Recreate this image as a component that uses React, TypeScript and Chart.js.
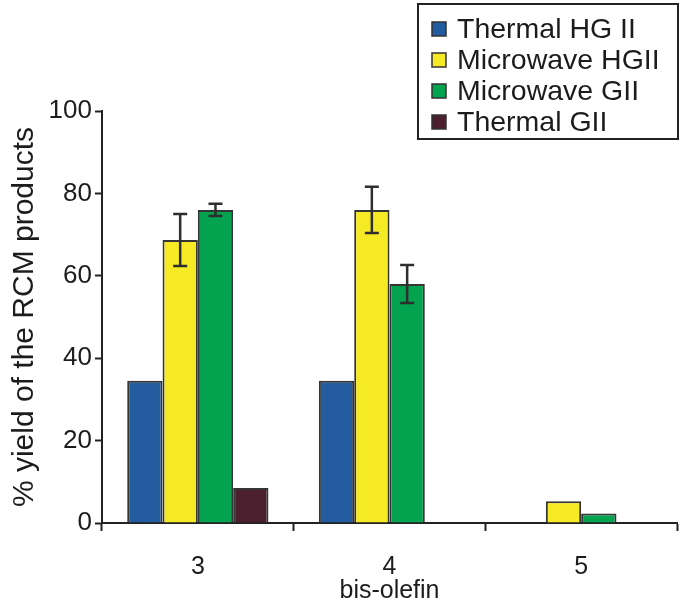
import React, { useEffect, useRef } from "react";
import { Chart, registerables } from "chart.js";

Chart.register(...registerables);

// ---- data ----
const categories = ["3", "4", "5"];
const seriesLabels = ["Thermal HG II", "Microwave HGII", "Microwave GII", "Thermal GII"];
const thermalHGII: (number | null)[] = [34.5, 34.5, null];
const microwaveHGII: (number | null)[] = [68.7, 76, 5.3];
const microwaveGII: (number | null)[] = [76, 58, 2.3];
const thermalGII: (number | null)[] = [8.5, null, null];
const thermalHGIIErr: (number | null)[] = [null, null, null];
const microwaveHGIIErr: (number | null)[] = [6.3, 5.6, null];
const microwaveGIIErr: (number | null)[] = [1.5, 4.6, null];
const thermalGIIErr: (number | null)[] = [null, null, null];
const yTicks = [0, 20, 40, 60, 80, 100];

const colors = ["#235d9f", "#f6ea25", "#03a350", "#4b1f2d"];
const FONT = "'Liberation Sans', Arial, Helvetica, sans-serif";
const INK = "#1c1c1c";

const errorBarPlugin = {
  id: "errorBars",
  afterDatasetsDraw(chart: any) {
    const ctx = chart.ctx;
    const yScale = chart.scales.y;
    ctx.save();
    ctx.strokeStyle = "#2e2e2e";
    ctx.lineWidth = 2.5;
    chart.data.datasets.forEach((ds: any, di: number) => {
      const errs = ds.errors as (number | null)[];
      if (!errs) return;
      const meta = chart.getDatasetMeta(di);
      errs.forEach((e, i) => {
        const v = ds.data[i];
        if (e == null || v == null) return;
        const el = meta.data[i];
        const x = el.x;
        const yTop = yScale.getPixelForValue(v + e);
        const yBot = yScale.getPixelForValue(v - e);
        const cap = 7;
        ctx.beginPath();
        ctx.moveTo(x, yTop);
        ctx.lineTo(x, yBot);
        ctx.moveTo(x - cap, yTop);
        ctx.lineTo(x + cap, yTop);
        ctx.moveTo(x - cap, yBot);
        ctx.lineTo(x + cap, yBot);
        ctx.stroke();
      });
    });
    ctx.restore();
  },
};

const legendPlugin = {
  id: "boxLegend",
  afterDraw(chart: any) {
    const ctx = chart.ctx;
    ctx.save();
    ctx.strokeStyle = "#222222";
    ctx.lineWidth = 2;
    ctx.strokeRect(418, 4, 260, 135);
    ctx.font = `28.5px ${FONT}`;
    ctx.textBaseline = "middle";
    ctx.textAlign = "left";
    chart.data.datasets.forEach((ds: any, i: number) => {
      const cy = 29 + i * 31;
      ctx.fillStyle = ds.backgroundColor;
      ctx.fillRect(432, cy - 7, 14, 14);
      ctx.lineWidth = 1.5;
      ctx.strokeStyle = "#333333";
      ctx.strokeRect(432, cy - 7, 14, 14);
      ctx.fillStyle = INK;
      ctx.fillText(ds.label, 457, cy + 1);
    });
    ctx.restore();
  },
};

export default function App() {
  const ref = useRef<HTMLCanvasElement | null>(null);

  useEffect(() => {
    if (!ref.current) return;
    const series = [thermalHGII, microwaveHGII, microwaveGII, thermalGII];
    const errs = [thermalHGIIErr, microwaveHGIIErr, microwaveGIIErr, thermalGIIErr];
    const chart = new Chart(ref.current, {
      type: "bar",
      data: {
        labels: categories,
        datasets: series.map((d, i) => ({
          label: seriesLabels[i],
          data: d,
          errors: errs[i],
          backgroundColor: colors[i],
          borderColor: "#353535",
          borderWidth: 2,
          categoryPercentage: 0.737,
          barPercentage: 1.0,
        })) as any,
      },
      options: {
        animation: false,
        responsive: false,
        devicePixelRatio: 1,
        layout: { padding: { top: 111, right: 7, left: 0, bottom: 0 } },
        plugins: {
          legend: { display: false },
          tooltip: { enabled: false },
        },
        scales: {
          x: {
            border: { display: true, color: "#222222", width: 2 },
            grid: {
              display: true,
              drawOnChartArea: false,
              drawTicks: true,
              tickLength: 8,
              tickWidth: 2,
              tickColor: "#222222",
              offset: true,
            },
            ticks: { color: INK, font: { family: FONT, size: 25 }, padding: 21 },
            title: {
              display: true,
              text: "bis-olefin",
              color: INK,
              font: { family: FONT, size: 25, lineHeight: 1.0 },
              padding: { top: 0, bottom: 2 },
            },
            afterFit: (s: any) => {
              s.height = 83;
            },
          },
          y: {
            min: 0,
            max: 100,
            border: { display: true, color: "#222222", width: 2 },
            grid: {
              display: true,
              drawOnChartArea: false,
              drawTicks: true,
              tickLength: 7,
              tickWidth: 2,
              tickColor: "#222222",
            },
            afterBuildTicks: (s: any) => {
              s.ticks = yTicks.map((v) => ({ value: v }));
            },
            ticks: { color: INK, font: { family: FONT, size: 26 }, padding: 3 },
            title: {
              display: true,
              text: "% yield of the RCM products",
              color: INK,
              font: { family: FONT, size: 30, lineHeight: 1.0 },
              padding: { top: 10, bottom: 0 },
            },
            afterFit: (s: any) => {
              s.width = 102;
            },
          },
        },
      },
      plugins: [errorBarPlugin, legendPlugin],
    });
    return () => chart.destroy();
  }, []);

  return (
    <div style={{ position: "absolute", left: 0, top: 0, width: 684, height: 606, background: "#ffffff" }}>
      <canvas ref={ref} width={684} height={606} style={{ display: "block" }} />
    </div>
  );
}
